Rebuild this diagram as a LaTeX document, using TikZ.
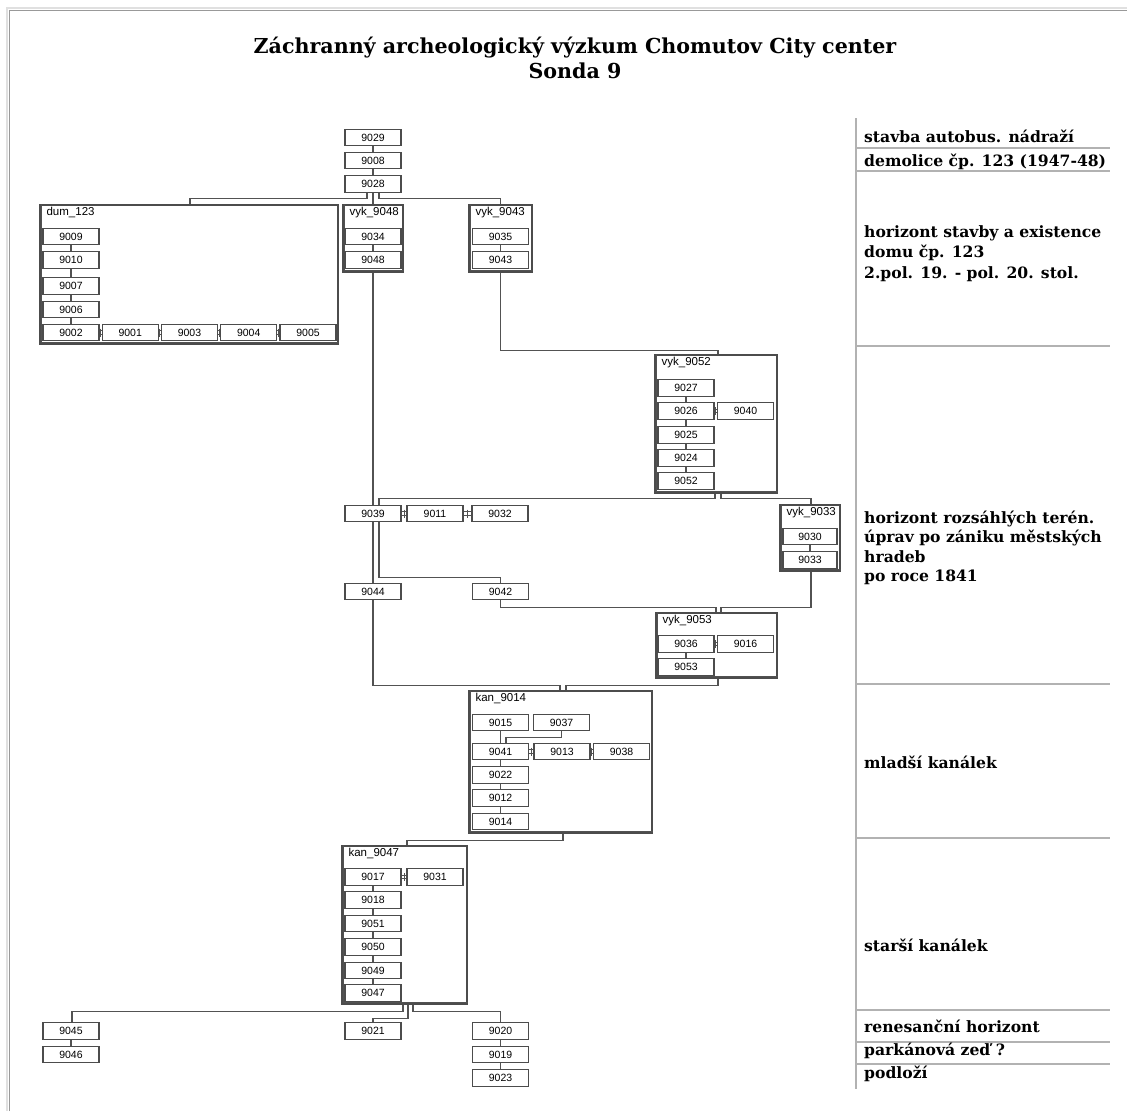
\documentclass[tikz,border=0pt]{standalone}
\usepackage{fontspec}
\setmainfont{Liberation Sans}
\newfontfamily\lblfont{DejaVu Serif}
\usetikzlibrary{calc}
\newcommand\bx[3]{\node[nb] (n#1) at (#2,#3) {#1};}
\newcommand\mkgrp[6]{%
  \node[grp, minimum width=#4pt, minimum height=#5pt] (#1) at (#2,#3) {};
  \node[gt] (#1t) at ([xshift=7pt,yshift=-3pt]#1.north west) {#6};
  \draw[ln,line width=0.8pt] ([xshift=2.3pt]#1.north west) -- ([xshift=2.3pt,yshift=2.3pt]#1.south west) -- ([yshift=2.3pt]#1.south east);}
\newcommand\dconn[2]{%
  \draw[ln,line width=0.8pt] ([yshift=1.8pt]#1.east) -- ([yshift=1.8pt]#2.west)
     ([yshift=-1.8pt]#1.east) -- ([yshift=-1.8pt]#2.west);
  \draw[ln,line width=0.8pt] ($(#1.east)!0.5!(#2.west)+(0,4pt)$) -- ($(#1.east)!0.5!(#2.west)+(0,-4pt)$);}
\begin{document}
\begin{tikzpicture}[x=1pt,y=-1pt,
  nb/.style={draw=black!70, line width=1.35pt, fill=white, minimum width=56pt, minimum height=16.5pt, inner sep=0pt, font=\fontsize{10.5}{12}\selectfont},
  grp/.style={draw=black!70, line width=1.2pt, inner sep=0pt},
  gt/.style={font=\fontsize{11.5}{13}\selectfont, anchor=north west, inner sep=0pt},
  ln/.style={draw=black!68, line width=1.1pt},
  rl/.style={draw=black!30, line width=1.2pt},
  lab/.style={font=\lblfont\bfseries\fontsize{15.6}{18}\selectfont, anchor=base west, inner sep=0pt},
  ttl/.style={font=\lblfont\bfseries\fontsize{20.6}{24}\selectfont, anchor=base, inner sep=0pt}]
\useasboundingbox (0,0) rectangle (1127,1111);
\fill[white] (0,0) rectangle (1127,1111);
% page frame
\draw[black!12, line width=2.5pt] (7,1111) -- (7,8) -- (1127,8);
\draw[black!40, line width=0.8pt] (9,1111) -- (9,10) -- (1127,10);
% title
\node[ttl] (title1) at (575,53) {Záchranný archeologický výzkum Chomutov City center};
\node[ttl] (title2) at (575,78) {Sonda 9};
% right column
\draw[rl] (856,118) -- (856,1089);
\foreach \yy in {148,171,346,684,838,1010,1042,1064} \draw[rl] (856,\yy) -- (1110,\yy);
\node[lab] (l1) at (864,142) {stavba autobus. nádraží};
\node[lab] (l2) at (864,166) {demolice čp. 123 (1947-48)};
\node[lab] (l3a) at (864,237) {horizont stavby a existence};
\node[lab] (l3b) at (864,257.5) {domu čp. 123};
\node[lab] (l3c) at (864,278) {2.pol. 19. - pol. 20. stol.};
\node[lab] (l4a) at (864,523) {horizont rozsáhlých terén.};
\node[lab] (l4b) at (864,542.5) {úprav po zániku městských};
\node[lab] (l4c) at (864,562) {hradeb};
\node[lab] (l4d) at (864,581.5) {po roce 1841};
\node[lab] (l5) at (864,768) {mladší kanálek};
\node[lab] (l6) at (864,951) {starší kanálek};
\node[lab] (l7) at (864,1032) {renesanční horizont};
\node[lab] (l8) at (864,1055) {parkánová zeď ?};
\node[lab] (l9) at (864,1078) {podloží};
% groups
\mkgrp{dum}{189}{274.5}{298}{139}{dum\_123}
\mkgrp{vyk9048}{373}{238.5}{60}{67}{vyk\_9048}
\mkgrp{vyk9043}{500.5}{238.5}{63}{67}{vyk\_9043}
\mkgrp{vyk9052}{716}{424}{122}{138}{vyk\_9052}
\mkgrp{vyk9033}{810}{538}{60}{66}{vyk\_9033}
\mkgrp{vyk9053}{716.5}{645.5}{121}{65}{vyk\_9053}
\mkgrp{kan9014}{560.5}{762}{183}{142}{kan\_9014}
\mkgrp{kan9047}{404.5}{925}{125}{158}{kan\_9047}
% boxes
\bx{9029}{373}{137.5}
\bx{9008}{373}{160.5}
\bx{9028}{373}{184}
\bx{9009}{71}{236.5}
\bx{9010}{71}{260}
\bx{9007}{71}{286}
\bx{9006}{71}{309.5}
\bx{9002}{71}{332.5}
\bx{9001}{130.25}{332.5}
\bx{9003}{189.5}{332.5}
\bx{9004}{248.75}{332.5}
\bx{9005}{308}{332.5}
\bx{9034}{373}{236.5}
\bx{9048}{373}{260}
\bx{9035}{500.5}{236.5}
\bx{9043}{500.5}{260}
\bx{9027}{686}{388}
\bx{9026}{686}{411}
\bx{9040}{745.5}{411}
\bx{9025}{686}{435}
\bx{9024}{686}{458}
\bx{9052}{686}{481}
\bx{9039}{373}{513.5}
\bx{9011}{435}{513.5}
\bx{9032}{500}{513.5}
\node[nb, minimum width=54pt] (n9030) at (810,536.5) {9030};
\node[nb, minimum width=54pt] (n9033) at (810,560) {9033};
\bx{9044}{373}{591.5}
\bx{9042}{500.5}{591.5}
\bx{9036}{686}{644}
\bx{9016}{745.5}{644}
\bx{9053}{686}{667}
\bx{9015}{500.5}{722.5}
\bx{9037}{561.5}{722.5}
\bx{9041}{500.5}{751.5}
\bx{9013}{562}{751.5}
\bx{9038}{621.5}{751.5}
\bx{9022}{500.5}{775}
\bx{9012}{500.5}{798}
\bx{9014}{500.5}{821.5}
\bx{9017}{373}{877}
\bx{9031}{435}{877}
\bx{9018}{373}{900}
\bx{9051}{373}{923.5}
\bx{9050}{373}{947}
\bx{9049}{373}{970.5}
\bx{9047}{373}{993}
\bx{9045}{71}{1031}
\bx{9046}{71}{1054.5}
\bx{9021}{373}{1031}
\bx{9020}{500.5}{1031}
\bx{9019}{500.5}{1054.5}
\bx{9023}{500.5}{1078}
% vertical chains
\draw[ln] (n9029) -- (n9008);
\draw[ln] (n9008) -- (n9028);
\draw[ln] (n9009) -- (n9010);
\draw[ln] (n9010) -- (n9007);
\draw[ln] (n9007) -- (n9006);
\draw[ln] (n9006) -- (n9002);
\draw[ln] (n9034) -- (n9048);
\draw[ln] (n9035) -- (n9043);
\draw[ln] (n9027) -- (n9026);
\draw[ln] (n9026) -- (n9025);
\draw[ln] (n9025) -- (n9024);
\draw[ln] (n9024) -- (n9052);
\draw[ln] (n9030) -- (n9033);
\draw[ln] (n9036) -- (n9053);
\draw[ln] (n9015) -- (n9041);
\draw[ln] (n9041) -- (n9022);
\draw[ln] (n9022) -- (n9012);
\draw[ln] (n9012) -- (n9014);
\draw[ln] (n9017) -- (n9018);
\draw[ln] (n9018) -- (n9051);
\draw[ln] (n9051) -- (n9050);
\draw[ln] (n9050) -- (n9049);
\draw[ln] (n9049) -- (n9047);
\draw[ln] (n9045) -- (n9046);
\draw[ln] (n9020) -- (n9019);
\draw[ln] (n9019) -- (n9023);
% horizontal (double) links
\dconn{n9002}{n9001}
\dconn{n9001}{n9003}
\dconn{n9003}{n9004}
\dconn{n9004}{n9005}
\dconn{n9026}{n9040}
\dconn{n9039}{n9011}
\dconn{n9011}{n9032}
\dconn{n9036}{n9016}
\dconn{n9041}{n9013}
\dconn{n9013}{n9038}
\dconn{n9017}{n9031}
% branching connectors
\draw[ln] ([xshift=-6pt]n9028.south) -- ++(0,-6pt) -| ([xshift=1pt]dum.north);
\draw[ln] (n9028) -- (vyk9048);
\draw[ln] ([xshift=6pt]n9028.south) -- ++(0,-6pt) -| (vyk9043.north);
\draw[ln] (vyk9043.south) -- ++(0,-78pt) -| ([xshift=2pt]vyk9052.north);
\draw[ln] (vyk9048) -- (n9039);
\draw[ln] ([xshift=-1pt]vyk9052.south) -- ++(0,-5pt) -| ([xshift=6pt]n9039.north);
\draw[ln] ([xshift=5pt]vyk9052.south) -- ++(0,-5pt) -| ([xshift=1pt]vyk9033.north);
\draw[ln] (n9039) -- (n9044);
\draw[ln] ([xshift=6pt]n9039.south) -- ++(0,-55pt) -| (n9042.north);
\draw[ln] ([xshift=1pt]vyk9033.south) -- ++(0,-36pt) -| ([xshift=4.5pt]vyk9053.north);
\draw[ln] (n9042.south) -- ++(0,-7pt) -| ([xshift=-0.5pt]vyk9053.north);
\draw[ln] ([xshift=1.5pt]vyk9053.south) -- ++(0,-7pt) -| ([xshift=5.5pt]kan9014.north);
\draw[ln] (n9044.south) -- ++(0,-85pt) -| ([xshift=-0.5pt]kan9014.north);
\draw[ln] (n9037.south) -- ++(0,-6pt) -| ([xshift=5.5pt]n9041.north);
\draw[ln] ([xshift=2.5pt]kan9014.south) -- ++(0,-7pt) -| ([xshift=2.5pt]kan9047.north);
\draw[ln] ([xshift=-1.5pt]kan9047.south) -- ++(0,-7pt) -| ([xshift=1pt]n9045.north);
\draw[ln] ([xshift=3.5pt]kan9047.south) -- ++(0,-14pt) -| (n9021.north);
\draw[ln] ([xshift=8.5pt]kan9047.south) -- ++(0,-7pt) -| (n9020.north);
\end{tikzpicture}
\end{document}
